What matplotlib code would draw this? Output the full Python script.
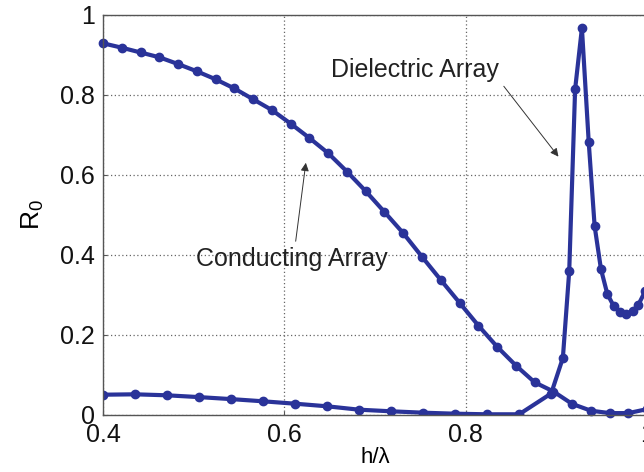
import numpy as np
import matplotlib
matplotlib.use("Agg")
import matplotlib.pyplot as plt

plt.rcParams['font.family'] = ['Liberation Sans', 'DejaVu Sans']
plt.rcParams['mathtext.fontset'] = 'custom'
plt.rcParams['mathtext.rm'] = 'Liberation Sans'

# conducting array curve (h/lambda, R0)
x_cond = [0.4, 0.4207, 0.4414, 0.4621, 0.4828, 0.5034, 0.5241, 0.5448, 0.5655, 0.5862,
          0.6069, 0.6276, 0.6483, 0.669, 0.6897, 0.7103, 0.731, 0.7517, 0.7724, 0.7931,
          0.8138, 0.8345, 0.8552, 0.8759, 0.8966, 0.9172, 0.9379, 0.9586, 0.9793, 1.0]
r_cond = [0.929, 0.918, 0.906, 0.894, 0.877, 0.859, 0.839, 0.816, 0.789, 0.762,
          0.728, 0.692, 0.654, 0.608, 0.559, 0.507, 0.454, 0.395, 0.337, 0.280,
          0.223, 0.170, 0.123, 0.081, 0.058, 0.027, 0.010, 0.004, 0.004, 0.014]

# dielectric array curve
x_diel = [0.4, 0.4353, 0.4706, 0.5059, 0.5412, 0.5765, 0.6118, 0.6471, 0.6824, 0.7176,
          0.7529, 0.7882, 0.8235, 0.8588, 0.8941, 0.907, 0.914, 0.9205, 0.928, 0.9355,
          0.942, 0.949, 0.956, 0.963, 0.970, 0.977, 0.984, 0.990, 0.998]
r_diel = [0.050, 0.051, 0.0485, 0.044, 0.039, 0.0335, 0.0275, 0.021, 0.0125, 0.0085,
          0.005, 0.0025, 0.001, 0.001, 0.053, 0.142, 0.359, 0.814, 0.967, 0.682,
          0.472, 0.364, 0.302, 0.272, 0.256, 0.252, 0.259, 0.274, 0.31]

xticks = [0.4, 0.6, 0.8, 1.0]
xtick_labels = ['0.4', '0.6', '0.8', '1']
yticks = [0, 0.2, 0.4, 0.6, 0.8, 1.0]
ytick_labels = ['0', '0.2', '0.4', '0.6', '0.8', '1']

blue = '#2a3399'

fig = plt.figure(figsize=(6.44, 4.72), dpi=100)
ax = fig.add_axes([0.16, 0.1214, 0.845, 0.847])

ax.plot(x_cond, r_cond, '-o', color=blue, lw=3, ms=6, mfc=blue, mec=blue, clip_on=False)
ax.plot(x_diel, r_diel, '-o', color=blue, lw=3, ms=6, mfc=blue, mec=blue)

ax.set_xlim(0.4, 1.0)
ax.set_ylim(0, 1)
ax.set_xticks(xticks)
ax.set_xticklabels(xtick_labels)
ax.set_yticks(yticks)
ax.set_yticklabels(ytick_labels)
ax.tick_params(labelsize=18, direction='in', length=3, colors='#555555', labelcolor='#111111', pad=6)

ax.grid(True, color='#666666', linestyle=(0, (1, 2)), lw=0.9)
for s in ax.spines.values():
    s.set_color('#555555')
    s.set_linewidth(1.0)

ax.set_xlabel('h/λ', fontsize=16)
ax.xaxis.set_label_coords(0.5, -0.082)
ax.set_ylabel(r'$\mathregular{R_0}$', fontsize=19)
ax.yaxis.set_label_coords(-0.105, 0.5)

ax.text(0.6515, 0.844, 'Dielectric Array', fontsize=18, color='#222222', va='baseline')
ax.annotate('', xy=(0.904, 0.64), xytext=(0.840, 0.827),
            arrowprops=dict(arrowstyle='-|>', color='#333333', lw=0.7, mutation_scale=12))
ax.text(0.503, 0.372, 'Conducting Array', fontsize=18, color='#222222', va='baseline')
ax.annotate('', xy=(0.624, 0.637), xytext=(0.612, 0.427),
            arrowprops=dict(arrowstyle='-|>', color='#333333', lw=0.7, mutation_scale=12))

plt.savefig('out.png', dpi=100)
